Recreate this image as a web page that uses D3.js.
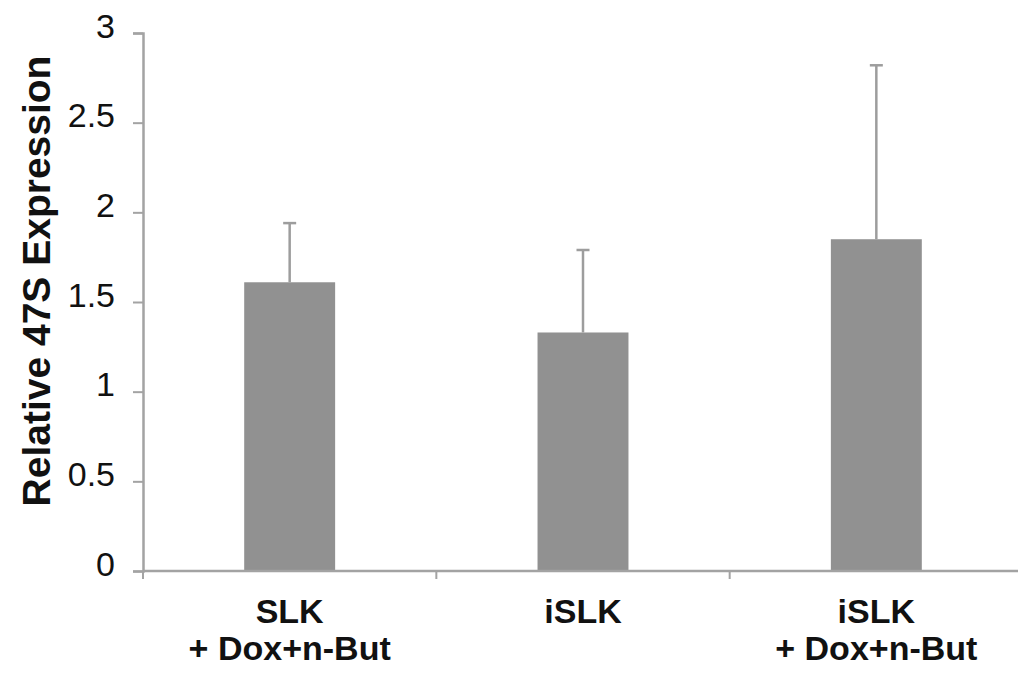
<!DOCTYPE html>
<html>
<head>
<meta charset="utf-8">
<script src="https://cdn.jsdelivr.net/npm/d3@7"></script>
<style>
  body { margin: 0; background: #fff; }
  text { font-family: "Liberation Sans", Arial, Helvetica, sans-serif; fill: #111; }
</style>
</head>
<body>
<svg id="chart"></svg>
<script>
var categories = [['SLK', '+ Dox+n-But'], ['iSLK'], ['iSLK', '+ Dox+n-But']];
var means = [1.61, 1.33, 1.85];
var errors = [0.33, 0.46, 0.97];
var yTicks = [0, 0.5, 1, 1.5, 2, 2.5, 3];

var W = 1018, H = 675;
var plotL = 143, plotR = 1023, plotT = 33, plotB = 571;
var axisColor = '#a3a3a3';

var svg = d3.select('#chart')
    .attr('width', W)
    .attr('height', H);

var x = d3.scaleBand()
    .domain(d3.range(categories.length))
    .range([plotL, plotR])
    .paddingInner(0.69)
    .paddingOuter(0.345);

var y = d3.scaleLinear()
    .domain([0, 3])
    .range([plotB, plotT]);

// bars
svg.append('g')
    .selectAll('rect')
    .data(means)
    .enter()
    .append('rect')
    .attr('x', function(d, i) { return x(i); })
    .attr('y', function(d) { return y(d); })
    .attr('width', x.bandwidth())
    .attr('height', function(d) { return y(0) - y(d); })
    .attr('fill', '#919191');

// error bars (upper only)
var err = svg.append('g')
    .attr('stroke', '#9d9d9d')
    .attr('stroke-width', 2.5);
means.forEach(function(m, i) {
  var cx = x(i) + x.bandwidth() / 2;
  err.append('line')
      .attr('x1', cx).attr('x2', cx)
      .attr('y1', y(m)).attr('y2', y(m + errors[i]));
  err.append('line')
      .attr('x1', cx - 6.5).attr('x2', cx + 6.5)
      .attr('y1', y(m + errors[i])).attr('y2', y(m + errors[i]));
});

// y axis
var yAxis = svg.append('g')
    .attr('transform', 'translate(' + plotL + ',0)')
    .call(d3.axisLeft(y).tickValues(yTicks).tickSize(10).tickPadding(18)
      .tickFormat(function(d) { return d; }));
yAxis.select('.domain').attr('stroke', axisColor).attr('stroke-width', 2.5);
yAxis.selectAll('.tick line').attr('stroke', axisColor).attr('stroke-width', 2);
yAxis.selectAll('.tick text')
    .style('font-family', '"Liberation Sans", Arial, sans-serif')
    .attr('font-size', 34)
    .attr('fill', '#111')
    .attr('dy', '0.12em');

// x axis
var xAxis = svg.append('g').attr('stroke', axisColor);
xAxis.append('line')
    .attr('x1', plotL).attr('x2', plotR)
    .attr('y1', plotB).attr('y2', plotB)
    .attr('stroke-width', 2.5);
var bounds = d3.range(categories.length + 1).map(function(i) { return plotL + i * x.step(); });
xAxis.selectAll('.xt')
    .data(bounds)
    .enter()
    .append('line')
    .attr('class', 'xt')
    .attr('x1', function(d) { return d; }).attr('x2', function(d) { return d; })
    .attr('y1', plotB).attr('y2', plotB + 8)
    .attr('stroke-width', 2);

// category labels
var labels = svg.append('g')
    .selectAll('text')
    .data(categories)
    .enter()
    .append('text')
    .attr('text-anchor', 'middle')
    .attr('font-size', 34)
    .attr('font-weight', 'bold')
    .attr('x', function(d, i) { return x(i) + x.bandwidth() / 2; })
    .attr('y', plotB + 52);
labels.selectAll('tspan')
    .data(function(d) { return d; })
    .enter()
    .append('tspan')
    .attr('x', function() { return d3.select(this.parentNode).attr('x'); })
    .attr('dy', function(d, i) { return i === 0 ? 0 : 37; })
    .text(function(d) { return d; });

// y title
svg.append('text')
    .attr('transform', 'translate(50,281) rotate(-90)')
    .attr('text-anchor', 'middle')
    .attr('font-size', 39)
    .attr('font-weight', 'bold')
    .text('Relative 47S Expression');
</script>
</body>
</html>
